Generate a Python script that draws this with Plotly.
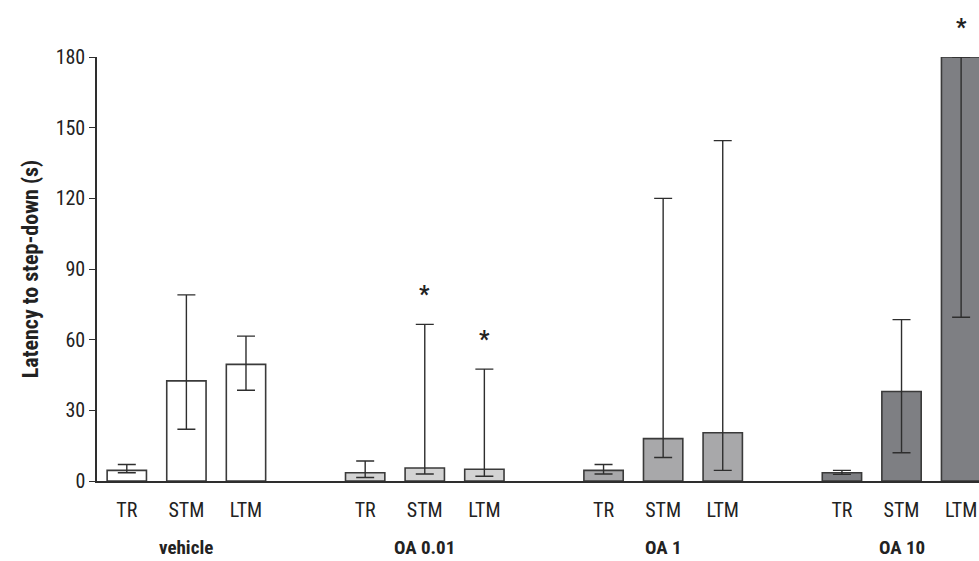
import plotly.graph_objects as go

groups = ["vehicle", "OA 0.01", "OA 1", "OA 10"]
phases = ["TR", "STM", "LTM"]
medians = [4.5, 42.5, 49.5, 3.5, 5.5, 5.0, 4.5, 18.0, 20.5, 3.5, 38.0, 180.0]
q_high = [7.0, 79.0, 61.5, 8.5, 66.5, 47.5, 7.0, 120.0, 144.5, 4.5, 68.5, 180.0]
q_low = [3.5, 22.0, 38.5, 1.5, 3.0, 2.0, 3.0, 10.0, 4.5, 2.8, 12.0, 69.5]
significant = [False, False, False, False, True, True, False, False, False, False, False, True]
group_colors = ["#ffffff", "#d3d3d3", "#a8a8aa", "#7e7f83"]
y_ticks = [0, 30, 60, 90, 120, 150, 180]

FONT = "Liberation Sans Narrow, Arial Narrow, Roboto Condensed, sans-serif"
DARK = "#2e2e2e"

xs, labels, colors = [], [], []
for gi, g in enumerate(groups):
    for pi, p in enumerate(phases):
        xs.append(gi * 4 + pi)
        labels.append(p)
        colors.append(group_colors[gi])

err_plus = [h - m for h, m in zip(q_high, medians)]
err_minus = [m - l for m, l in zip(medians, q_low)]

fig = go.Figure()
fig.add_trace(go.Bar(
    x=xs, y=medians, width=0.66,
    marker=dict(color=colors, line=dict(color="#3a3a3a", width=1.6)),
    error_y=dict(type="data", symmetric=False, array=err_plus, arrayminus=err_minus,
                 color=DARK, thickness=1.4, width=9),
    cliponaxis=False,
    hoverinfo="skip",
))

for x, h, s in zip(xs, q_high, significant):
    if s:
        fig.add_annotation(x=x, y=h, text="<b>*</b>", showarrow=False, yshift=30,
                           yanchor="middle",
                           font=dict(family=FONT, size=23, color="#222"))

for gi, g in enumerate(groups):
    fig.add_annotation(x=gi * 4 + 1, y=0, yref="paper", yshift=-66, yanchor="middle",
                       text="<b>%s</b>" % g, showarrow=False,
                       font=dict(family=FONT, size=19, color="#222"))

fig.update_layout(
    width=979, height=561,
    margin=dict(l=97, r=0, t=57, b=80),
    paper_bgcolor="white", plot_bgcolor="white",
    showlegend=False,
    font=dict(family=FONT, color="#222"),
    xaxis=dict(range=[-0.5, 14.3], tickvals=xs, ticktext=labels, ticks="",
               showline=True, linecolor=DARK, linewidth=1.5, showgrid=False,
               zeroline=False, tickfont=dict(family=FONT, size=20, color="#222"),
               ticklabelstandoff=10, automargin=False),
    yaxis=dict(range=[0, 180], tickvals=y_ticks, ticks="outside", ticklen=6,
               tickcolor=DARK, tickwidth=1.3, showline=True, linecolor=DARK, linewidth=1.5,
               showgrid=False, zeroline=False, automargin=False,
               tickfont=dict(family=FONT, size=20, color="#222"),
               title=dict(text="<b>Latency to step-down (s)</b>", standoff=11,
                          font=dict(family=FONT, size=22, color="#222"))),
)

fig.write_html("out.html", config={"displayModeBar": False},
               post_script="document.body.style.margin='0';document.body.style.overflow='hidden';")
